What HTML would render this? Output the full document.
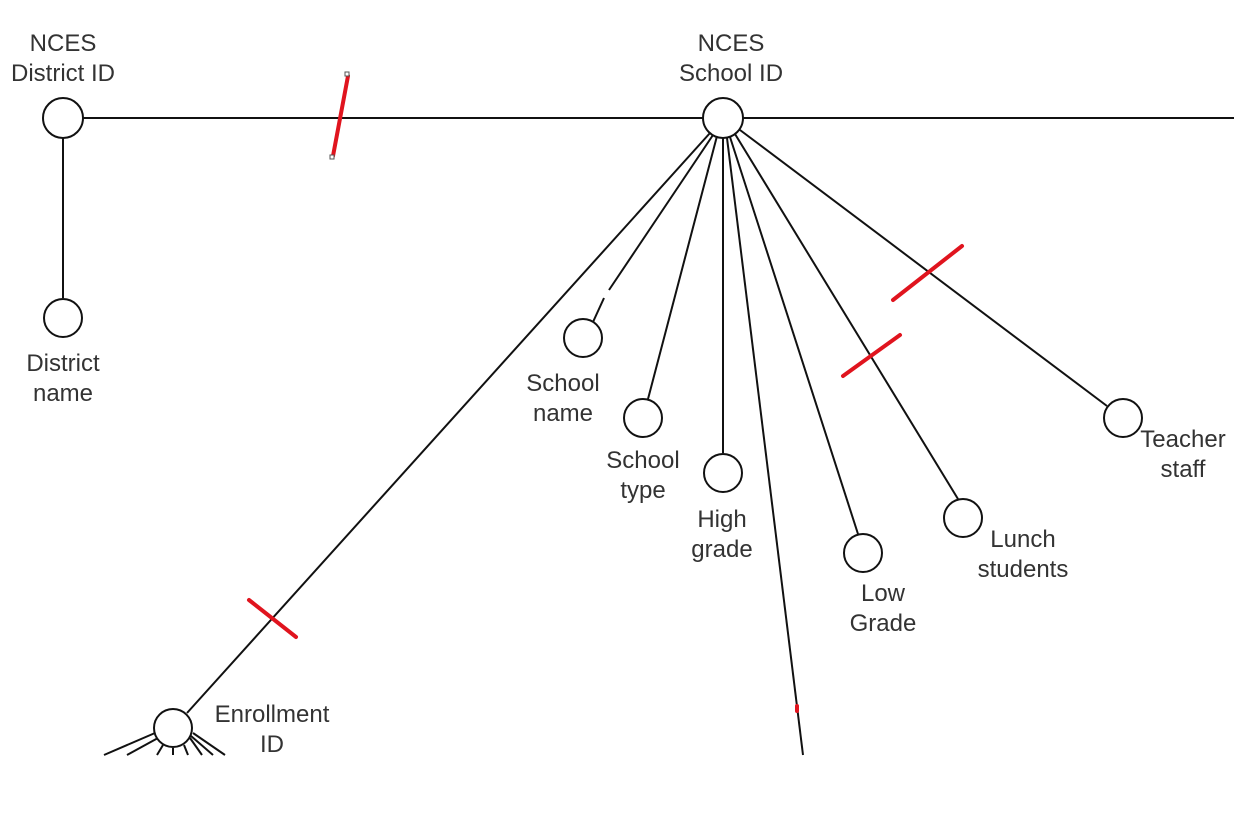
<!DOCTYPE html>
<html><head><meta charset="utf-8"><style>
html,body{margin:0;padding:0;background:#fff;}
svg{display:block;}
text{font-family:"Liberation Sans",Arial,sans-serif;font-size:24px;fill:#333;text-anchor:middle;}
</style></head><body>
<svg width="1257" height="835" viewBox="0 0 1257 835" xmlns="http://www.w3.org/2000/svg">
<g stroke="#111" stroke-width="2" fill="none">
<line x1="83" y1="118" x2="703" y2="118"/>
<line x1="743" y1="118" x2="1234" y2="118"/>
<line x1="63" y1="138" x2="63" y2="298"/>
<line x1="710" y1="133" x2="187" y2="713"/>
<line x1="713" y1="135" x2="609" y2="290"/>
<line x1="604" y1="298" x2="593" y2="322"/>
<line x1="717" y1="136" x2="648" y2="399"/>
<line x1="723" y1="138" x2="723" y2="453"/>
<line x1="727" y1="138" x2="803" y2="755"/>
<line x1="730" y1="137" x2="858" y2="534"/>
<line x1="735" y1="134" x2="958" y2="499"/>
<line x1="740" y1="130" x2="1107" y2="406"/>
<line x1="155" y1="733" x2="104" y2="755"/>
<line x1="158" y1="738" x2="127" y2="755"/>
<line x1="163" y1="745" x2="157" y2="755"/>
<line x1="173" y1="748" x2="173" y2="755"/>
<line x1="184" y1="745" x2="188" y2="755"/>
<line x1="190" y1="738" x2="202" y2="755"/>
<line x1="193" y1="733" x2="225" y2="755"/>
<line x1="191" y1="736" x2="213" y2="755"/>
</g>
<g stroke="#111" stroke-width="2" fill="#fff">
<circle cx="63" cy="118" r="20"/>
<circle cx="723" cy="118" r="20"/>
<circle cx="63" cy="318" r="19"/>
<circle cx="583" cy="338" r="19"/>
<circle cx="643" cy="418" r="19"/>
<circle cx="723" cy="473" r="19"/>
<circle cx="863" cy="553" r="19"/>
<circle cx="963" cy="518" r="19"/>
<circle cx="1123" cy="418" r="19"/>
<circle cx="173" cy="728" r="19"/>
</g>
<g stroke="#e0141e" stroke-width="4" stroke-linecap="round">
<line x1="333" y1="156" x2="348" y2="76"/>
<line x1="893" y1="300" x2="962" y2="246"/>
<line x1="843" y1="376" x2="900" y2="335"/>
<line x1="249" y1="600" x2="296" y2="637"/>
<line x1="797" y1="706" x2="797" y2="711"/>
</g>
<rect x="345" y="72" width="4" height="4" fill="#fff" stroke="#555" stroke-width="1"/>
<rect x="330" y="155" width="4" height="4" fill="#fff" stroke="#555" stroke-width="1"/>
<text x="63" y="51">NCES</text><text x="63" y="81">District ID</text>
<text x="731" y="51">NCES</text><text x="731" y="81">School ID</text>
<text x="63" y="371">District</text><text x="63" y="401">name</text>
<text x="563" y="391">School</text><text x="563" y="421">name</text>
<text x="643" y="468">School</text><text x="643" y="498">type</text>
<text x="722" y="527">High</text><text x="722" y="557">grade</text>
<text x="883" y="601">Low</text><text x="883" y="631">Grade</text>
<text x="1023" y="547">Lunch</text><text x="1023" y="577">students</text>
<text x="1183" y="447">Teacher</text><text x="1183" y="477">staff</text>
<text x="272" y="722">Enrollment</text><text x="272" y="752">ID</text>
</svg>
</body></html>
